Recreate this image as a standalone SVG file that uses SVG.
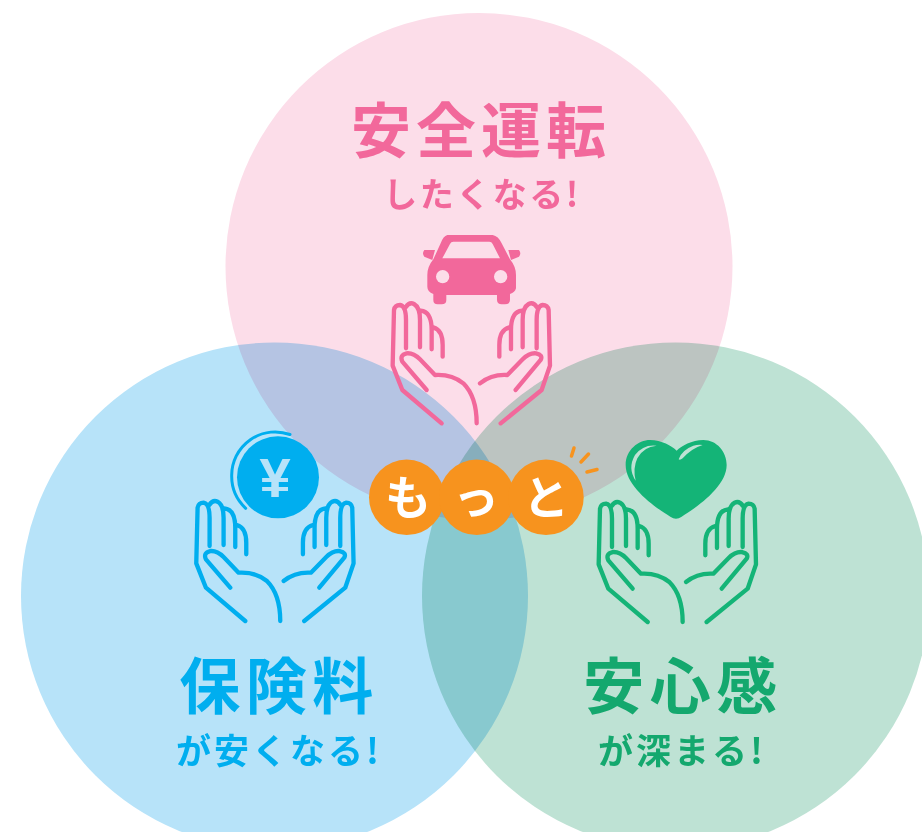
<svg xmlns="http://www.w3.org/2000/svg" width="922" height="832" viewBox="0 0 922 832">
<style>
.c{mix-blend-mode:multiply}
text{font-family:"Noto Sans CJK JP","Noto Sans",sans-serif;font-weight:700;text-anchor:middle}
.t{font-size:60px;letter-spacing:5px}
.b{font-size:61px;letter-spacing:5.500px}
.s{font-size:34px;letter-spacing:2.500px}
.u{font-size:35px;letter-spacing:3px}
.o{font-size:46px;fill:#fff}
.h{fill:none;stroke:currentColor;stroke-width:13;stroke-linecap:round;stroke-linejoin:round}
</style>
<defs>
<g id="hands" class="h" transform="scale(.3333)">
<path d="M215 610L97 510L68 437L72 270Q75 255 90 255Q108 258 108 300V385M107 262Q118 245 132 252Q150 262 150 300V382M152 272Q185 275 185 330V388M190 322Q218 330 218 375V410"/>
<path d="M170 510L97 425Q88 405 110 400Q130 398 150 418L195 465Q245 462 280 490Q320 530 320 610"/>
<path d="M392 610L515 510L540 437L536 270Q533 255 518 255Q500 258 500 300V385M501 262Q490 245 476 252Q458 262 458 300V382M456 272Q423 275 423 330V388M418 322Q388 330 388 375V410"/>
<path d="M437 510L512 420Q520 405 498 400Q478 398 458 418L412 465Q365 462 330 490"/>
</g>
</defs>
<rect width="922" height="832" fill="#fff"/>
<g id="circles">
<circle class="c" cx="479" cy="266.500" r="253.500" fill="#fcdde9"/>
<circle class="c" cx="274.500" cy="596" r="253.500" fill="#b7e3f9"/>
<circle class="c" cx="675.500" cy="596" r="253.500" fill="#bee2d4"/>
</g>
<g id="node-safety" color="#f2689b">
<text class="t" x="481" y="153" fill="#f2689b">安全運転</text>
<text class="s" x="482" y="207" fill="#f2689b">したくなる!</text>
<g transform="translate(370 220) scale(.3333)" fill="#f2689b">
<path fill-rule="evenodd" d="M232 45H368Q385 48 395 70L420 118Q438 140 438 165V205Q435 218 420 222V240Q420 253 405 253H395Q382 253 381 240V225H229V240Q229 253 215 253H203Q190 253 190 240V222Q172 215 172 200V165Q172 140 190 118L212 70Q220 48 232 45ZM250 65H358Q365 65 368 72L390 115H217L240 72Q243 65 250 65Z"/>
<circle cx="218" cy="170" r="20" fill="#fcdde9"/>
<circle cx="392" cy="170" r="20" fill="#fcdde9"/>
<path d="M163 90H195L187 120L163 110Q155 100 163 90ZM447 90H415L423 120L447 110Q455 100 447 90Z"/>
</g>
<use href="#hands" x="370" y="220"/>
</g>
<g id="node-premium" color="#00aeef">
<text class="b" x="279" y="709" fill="#00aeef">保険料</text>
<text class="u" x="279" y="764" fill="#00aeef">が安くなる!</text>
<circle cx="278" cy="477.300" r="41" fill="#00aeef"/>
<path d="M245.700 508.300A44 44 0 0 1 231.700 475A43.500 43.500 0 0 1 290 434.500" fill="none" stroke="#00aeef" stroke-width="3" stroke-linecap="round"/>
<text x="275" y="497" font-size="56" style="font-family:'Liberation Sans',sans-serif" fill="#b7e3f9">¥</text>
<use href="#hands" x="173.600" y="417.700"/>
</g>
<g id="node-peace" color="#14b477">
<text class="b" x="683" y="709" fill="#14a86e">安心感</text>
<text class="u" x="682" y="764" fill="#14a86e">が深まる!</text>
<g transform="translate(590 430) scale(.3333)">
<path fill="#14b477" d="M241 260C195 232 107 170 107 105C107 60 145 30 180 30C215 30 245 48 260 62C275 48 305 30 340 30C380 30 410 65 410 105C410 170 320 232 275 260Q258 272 241 260Z"/>
<path fill="#bee2d4" d="M137 152Q112 115 135 75Q160 42 200 47Q160 50 142 85Q128 115 137 152ZM266 88Q275 60 310 47Q325 43 338 45Q305 55 278 85Q270 92 266 88Z"/>
</g>
<use href="#hands" x="576" y="418.700"/>
</g>
<g id="node-motto">
<circle cx="406.700" cy="497.300" r="37.700" fill="#f7931e"/>
<circle cx="476.700" cy="497.300" r="37.700" fill="#f7931e"/>
<circle cx="546" cy="497.300" r="37.700" fill="#f7931e"/>
<text class="o" x="408" y="514">も</text>
<text class="o" x="476" y="514">っ</text>
<text class="o" x="546" y="514">と</text>
<path d="M574 448L571.500 456M588.500 454L581 462M597 469.500L587 472" fill="none" stroke="#f7931e" stroke-width="3.500" stroke-linecap="round"/>
</g>
</svg>
